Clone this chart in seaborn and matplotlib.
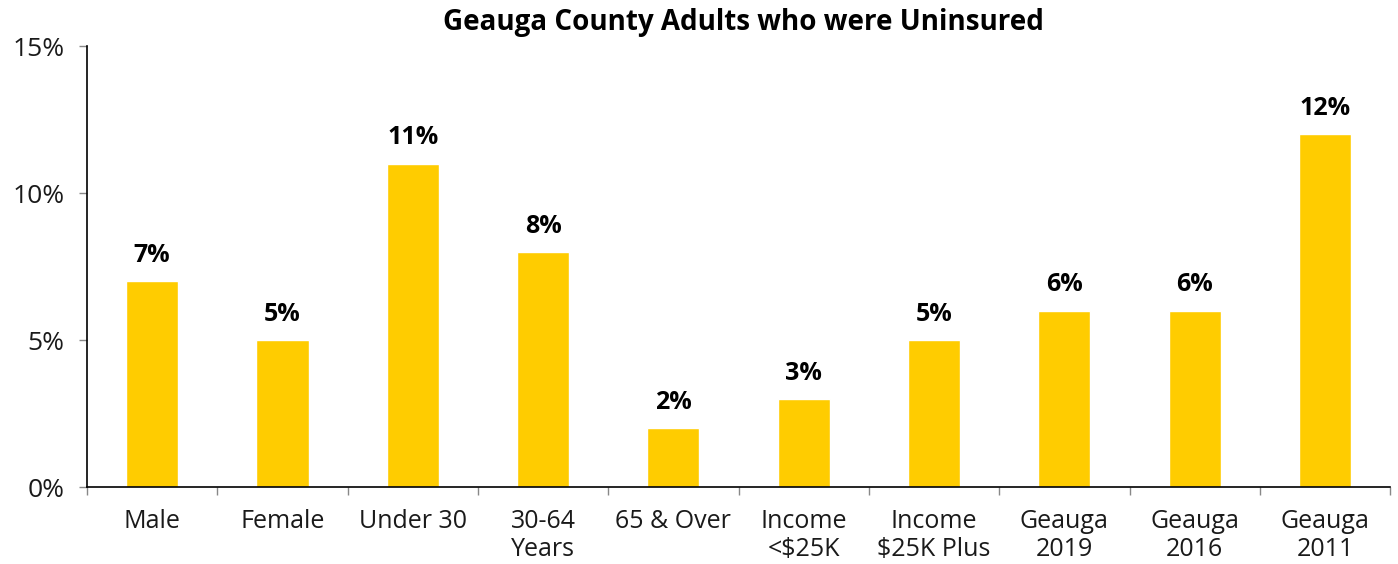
import matplotlib
matplotlib.use("Agg")
import matplotlib.pyplot as plt
import seaborn as sns
import pandas as pd
from matplotlib.ticker import FixedLocator, PercentFormatter

categories = ["Male", "Female", "Under 30", "30-64\nYears", "65 & Over",
              "Income\n<$25K", "Income\n$25K Plus", "Geauga\n2019",
              "Geauga\n2016", "Geauga\n2011"]
uninsured_pct = [7, 5, 11, 8, 2, 3, 5, 6, 6, 12]
y_ticks = [0, 5, 10, 15]
title = "Geauga County Adults who were Uninsured"

sns.set_theme(style="white")
plt.rcParams["font.family"] = ["Open Sans", "DejaVu Sans"]

df = pd.DataFrame({"category": categories, "pct": uninsured_pct})

fig = plt.figure(figsize=(13.98, 5.64), dpi=100)
ax = fig.add_axes([0.0622, 0.1365, 0.9322, 0.7819])

sns.barplot(data=df, x="category", y="pct", color="#FFCC00", saturation=1,
            width=0.4, ax=ax)

for i, v in enumerate(uninsured_pct):
    ax.text(i, v + 0.45, f"{v}%", ha="center", va="bottom",
            fontsize=18, fontweight="bold", color="black")

ax.set_xlim(-0.5, len(categories) - 0.5)
ax.set_ylim(0, 15)
ax.yaxis.set_major_locator(FixedLocator(y_ticks))
ax.yaxis.set_major_formatter(PercentFormatter(decimals=0))

ax.xaxis.set_minor_locator(FixedLocator([i - 0.5 for i in range(len(categories) + 1)]))
ax.tick_params(axis="x", which="major", length=0, pad=16, labelsize=18)
ax.tick_params(axis="x", which="minor", length=6, width=1, color="#888888",
               direction="out", bottom=True)
ax.tick_params(axis="y", which="major", length=6, width=1, color="#888888",
               direction="out", left=True, labelsize=19, pad=10)
for lbl in ax.get_xticklabels() + ax.get_yticklabels():
    lbl.set_color("#1a1a1a")
    lbl.set_linespacing(1.15)

ax.set_xlabel("")
ax.set_ylabel("")
for side in ["top", "right"]:
    ax.spines[side].set_visible(False)
for side in ["left", "bottom"]:
    ax.spines[side].set_color("black")
    ax.spines[side].set_linewidth(1.2)

fig.text(0.5315, 0.985, title, ha="center", va="top",
         fontsize=20, fontweight="bold", color="black")

fig.savefig("out.png", dpi=100)
